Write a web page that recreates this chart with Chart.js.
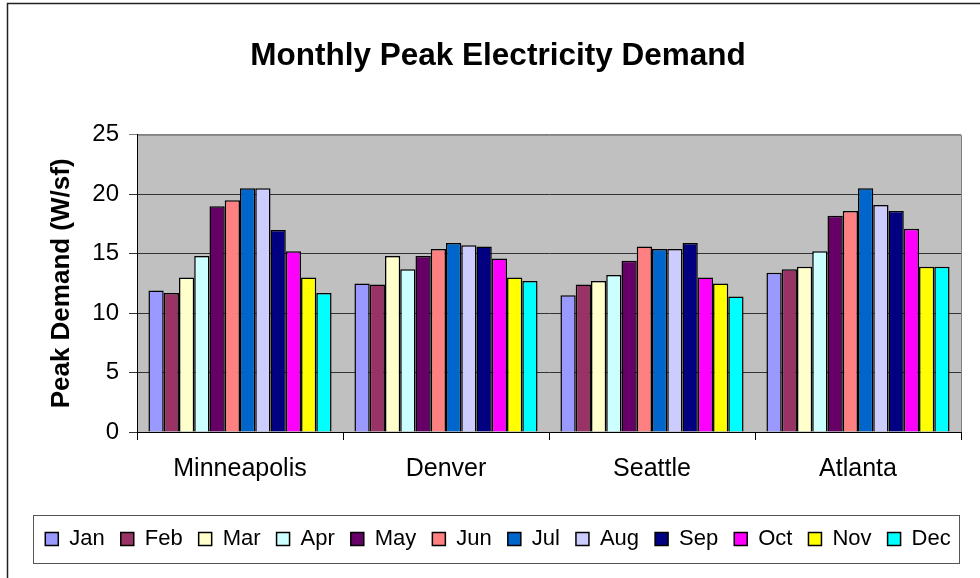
<!DOCTYPE html>
<html>
<head>
<meta charset="utf-8">
<script src="https://cdn.jsdelivr.net/npm/chart.js@4/dist/chart.umd.min.js"></script>
<style>
  html, body { margin: 0; padding: 0; background: #fff; }
  #chart { display: block; }
</style>
</head>
<body>
<canvas id="chart" width="980" height="578"></canvas>
<script>
// cities on the x axis
const cities = ["Minneapolis", "Denver", "Seattle", "Atlanta"];
const yTicks = [0, 5, 10, 15, 20, 25];

// peak demand per month (W/sf), one value per city
const jan = [11.9, 12.5, 11.5, 13.4];
const feb = [11.7, 12.4, 12.4, 13.7];
const mar = [13.0, 14.8, 12.7, 13.9];
const apr = [14.8, 13.7, 13.2, 15.2];
const may = [19.0, 14.8, 14.4, 18.2];
const jun = [19.5, 15.4, 15.6, 18.6];
const jul = [20.5, 15.9, 15.4, 20.5];
const aug = [20.5, 15.7, 15.4, 19.1];
const sep = [17.0, 15.6, 15.9, 18.6];
const oct = [15.2, 14.6, 13.0, 17.1];
const nov = [13.0, 13.0, 12.5, 13.9];
const dec = [11.7, 12.7, 11.4, 13.9];

const months = ["Jan", "Feb", "Mar", "Apr", "May", "Jun", "Jul", "Aug", "Sep", "Oct", "Nov", "Dec"];
const monthValues = [jan, feb, mar, apr, may, jun, jul, aug, sep, oct, nov, dec];
// old Excel palette
const monthColors = ["#9999FF", "#993366", "#FFFFCC", "#CCFFFF", "#660066", "#FF8080",
  "#0066CC", "#CCCCFF", "#000080", "#FF00FF", "#FFFF00", "#00FFFF"];

const FONT = "Arial, 'Liberation Sans', sans-serif";

// grey plot area, outer frame and legend frame
const decorPlugin = {
  id: "decor",
  beforeDraw(chart) {
    const { ctx, chartArea: a } = chart;
    ctx.save();
    ctx.fillStyle = "#C0C0C0";
    ctx.fillRect(a.left, a.top, a.right - a.left, a.bottom - a.top);
    ctx.strokeStyle = "#808080";
    ctx.lineWidth = 1;
    ctx.beginPath();
    ctx.moveTo(a.left, a.top + 0.5);
    ctx.lineTo(a.right + 0.5, a.top + 0.5);
    ctx.lineTo(a.right + 0.5, a.bottom);
    ctx.stroke();
    // chart frame (left + top edges only are visible)
    ctx.strokeStyle = "#222";
    ctx.lineWidth = 1.5;
    ctx.beginPath();
    ctx.moveTo(7.5, chart.height);
    ctx.lineTo(7.5, 3.5);
    ctx.lineTo(chart.width, 3.5);
    ctx.stroke();
    ctx.restore();
  },
  afterDraw(chart) {
    const lg = chart.legend;
    if (!lg || !lg.legendHitBoxes.length) return;
    const boxes = lg.legendHitBoxes;
    const left = Math.min(...boxes.map(b => b.left)) - 12;
    const right = Math.max(...boxes.map(b => b.left + b.width)) + 9;
    const mid = boxes[0].top + boxes[0].height / 2;
    const { ctx } = chart;
    ctx.save();
    ctx.strokeStyle = "#555";
    ctx.lineWidth = 1;
    ctx.strokeRect(Math.round(left) + 0.5, Math.round(mid - 24) + 0.5,
      Math.round(right - left), 48);
    ctx.restore();
  }
};

new Chart(document.getElementById("chart"), {
  type: "bar",
  data: {
    labels: cities,
    datasets: months.map((m, i) => ({
      label: m,
      data: monthValues[i],
      backgroundColor: monthColors[i],
      borderColor: "#000",
      borderWidth: 1.5,
      categoryPercentage: 12 / 13.5,
      barPercentage: 1
    }))
  },
  options: {
    responsive: false,
    animation: false,
    layout: { padding: { left: 20, right: 4, top: 0, bottom: 18 } },
    plugins: {
      title: {
        display: true,
        text: "Monthly Peak Electricity Demand",
        color: "#000",
        font: { family: FONT, size: 31.5, weight: "bold" },
        padding: { top: 37, bottom: 60 }
      },
      legend: {
        position: "bottom",
        labels: {
          color: "#000",
          font: { family: FONT, size: 22 },
          boxWidth: 13,
          boxHeight: 13,
          padding: 16
        }
      },
      tooltip: { enabled: false }
    },
    scales: {
      x: {
        offset: true,
        grid: {
          display: true,
          offset: true,
          drawOnChartArea: false,
          drawTicks: true,
          tickLength: 8,
          color: "#000"
        },
        border: { display: true, color: "#000", width: 1 },
        ticks: {
          color: "#000",
          font: { family: FONT, size: 25 },
          padding: 14,
          maxRotation: 0
        },
        afterFit(scale) { scale.height = 80; }
      },
      y: {
        min: 0,
        max: 25,
        afterBuildTicks(scale) { scale.ticks = yTicks.map(v => ({ value: v })); },
        grid: {
          color: (c) => (c.tick && c.tick.value === 25 ? "#808080" : "#333"),
          tickLength: 8,
          lineWidth: 1
        },
        border: { display: true, color: "#000", width: 1 },
        ticks: {
          color: "#000",
          font: { family: FONT, size: 24 },
          padding: 10
        },
        title: {
          display: true,
          text: "Peak Demand (W/sf)",
          color: "#000",
          font: { family: FONT, size: 26, weight: "bold" },
          padding: { top: 26, bottom: 0 }
        },
        afterFit(scale) { scale.width = 117; }
      },
      // empty right-hand spacer so the plot stops where the original does
      spacer: {
        type: "linear",
        position: "right",
        display: true,
        grid: { display: false, drawTicks: false },
        border: { display: false },
        ticks: { display: false },
        afterFit(scale) { scale.width = 15; }
      }
    }
  },
  plugins: [decorPlugin]
});
</script>
</body>
</html>
